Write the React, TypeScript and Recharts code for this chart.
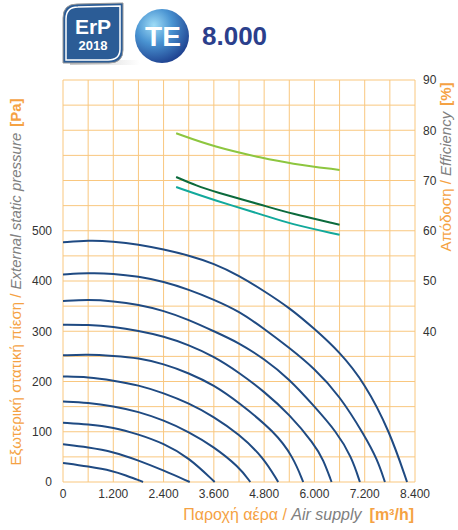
import React from "react";
import { ComposedChart, Line, XAxis, YAxis, CartesianGrid } from "recharts";

// air supply [m3/h] vs external static pressure [Pa], one curve per fan speed
const flowTicks = [0, 600, 1200, 1800, 2400, 3000, 3600, 4200, 4800, 5400, 6000, 6600, 7200, 7800, 8400];
const pressureTicks = [0, 50, 100, 150, 200, 250, 300, 350, 400, 450, 500, 550, 600, 650, 700, 750, 800];
const efficiencyTicks = [40, 50, 60, 70, 80, 90];

const curve1 = [
  { q: 0, p: 477 }, { q: 600, p: 481 }, { q: 1200, p: 479 }, { q: 1800, p: 473 }, { q: 2400, p: 463 },
  { q: 3000, p: 451 }, { q: 3600, p: 435 }, { q: 4200, p: 411 }, { q: 4800, p: 380 }, { q: 5400, p: 347 },
  { q: 6000, p: 305 }, { q: 6600, p: 259 }, { q: 7200, p: 197 }, { q: 7800, p: 100 }, { q: 8210, p: 0 },
];
const curve2 = [
  { q: 0, p: 413 }, { q: 600, p: 416 }, { q: 1200, p: 415 }, { q: 1800, p: 409 }, { q: 2400, p: 399 },
  { q: 3000, p: 383 }, { q: 3600, p: 363 }, { q: 4200, p: 340 }, { q: 4800, p: 305 }, { q: 5400, p: 267 },
  { q: 6000, p: 226 }, { q: 6600, p: 172 }, { q: 7200, p: 92 }, { q: 7500, p: 45 }, { q: 7682, p: 0 },
];
const curve3 = [
  { q: 0, p: 360 }, { q: 600, p: 363 }, { q: 1200, p: 360 }, { q: 1800, p: 353 }, { q: 2400, p: 341 },
  { q: 3000, p: 323 }, { q: 3600, p: 300 }, { q: 4200, p: 277 }, { q: 4800, p: 245 }, { q: 5400, p: 205 },
  { q: 5970, p: 153 }, { q: 6528, p: 100 }, { q: 6887, p: 50 }, { q: 7085, p: 0 },
];
const curve4 = [
  { q: 0, p: 313 }, { q: 600, p: 313 }, { q: 1200, p: 309 }, { q: 1800, p: 301 }, { q: 2400, p: 290 },
  { q: 3000, p: 273 }, { q: 3600, p: 250 }, { q: 4200, p: 218 }, { q: 4800, p: 180 }, { q: 5400, p: 135 },
  { q: 6000, p: 75 }, { q: 6209, p: 45 }, { q: 6409, p: 0 },
];
const curve5 = [
  { q: 0, p: 252 }, { q: 600, p: 254 }, { q: 1200, p: 251 }, { q: 1800, p: 247 }, { q: 2400, p: 235 },
  { q: 3000, p: 217 }, { q: 3600, p: 193 }, { q: 4200, p: 158 }, { q: 5050, p: 100 }, { q: 5492, p: 50 },
  { q: 5732, p: 0 },
];
const curve6 = [
  { q: 0, p: 210 }, { q: 600, p: 209 }, { q: 1200, p: 202 }, { q: 1800, p: 193 }, { q: 2400, p: 177 },
  { q: 3000, p: 157 }, { q: 3600, p: 130 }, { q: 4200, p: 95 }, { q: 4776, p: 50 }, { q: 5135, p: 0 },
];
const curve7 = [
  { q: 0, p: 160 }, { q: 600, p: 158 }, { q: 1200, p: 151 }, { q: 1800, p: 140 }, { q: 2400, p: 123 },
  { q: 3000, p: 100 }, { q: 3600, p: 70 }, { q: 4200, p: 30 }, { q: 4470, p: 0 },
];
const curve8 = [
  { q: 0, p: 118 }, { q: 600, p: 115 }, { q: 1200, p: 109 }, { q: 1800, p: 95 }, { q: 2400, p: 77 },
  { q: 3000, p: 49 }, { q: 3620, p: 0 },
];
const curve9 = [
  { q: 0, p: 75 }, { q: 600, p: 69 }, { q: 1200, p: 60 }, { q: 1800, p: 43 }, { q: 2400, p: 23 }, { q: 3025, p: 0 },
];
const curve10 = [
  { q: 0, p: 38 }, { q: 600, p: 31 }, { q: 1200, p: 22 }, { q: 1500, p: 13 }, { q: 1800, p: 4 }, { q: 1910, p: 0 },
];
const fanCurves = [curve1, curve2, curve3, curve4, curve5, curve6, curve7, curve8, curve9, curve10];

// efficiency [%] on the right axis
const effLight = [
  { q: 2700, e: 79.4 }, { q: 3600, e: 76.7 }, { q: 4800, e: 74.4 }, { q: 5400, e: 73.4 }, { q: 6600, e: 72.1 },
];
const effDark = [
  { q: 2700, e: 70.7 }, { q: 3200, e: 68.9 }, { q: 3600, e: 67.8 }, { q: 4800, e: 65.0 }, { q: 5400, e: 63.5 },
  { q: 6600, e: 61.2 },
];
const effTeal = [
  { q: 2700, e: 68.7 }, { q: 3600, e: 66.1 }, { q: 4800, e: 63.1 }, { q: 5400, e: 61.4 }, { q: 6600, e: 59.2 },
];

const FONT = "'Liberation Sans', Arial, sans-serif";
const ORANGE = "#f5a243";
const GRAY = "#808080";
const GRID = "#f9c77f";
const NAVY = "#1f4a82";

const fmtFlow = (v: number) => {
  if (v % 1200 !== 0) return "";
  if (v < 1000) return String(v);
  return `${Math.floor(v / 1000)}.${String(v % 1000).padStart(3, "0")}`;
};
const fmtPressure = (v: number) => (v % 100 === 0 && v <= 500 ? String(v) : "");

function Header() {
  return (
    <g>
      <defs>
        <radialGradient id="teGrad" cx="35%" cy="30%" r="75%">
          <stop offset="0%" stopColor="#9fdcf6" />
          <stop offset="45%" stopColor="#4a94d2" />
          <stop offset="100%" stopColor="#1d3f8e" />
        </radialGradient>
        <linearGradient id="shadow" x1="0" y1="0" x2="1" y2="0">
          <stop offset="0%" stopColor="#bbb" stopOpacity="0.8" />
          <stop offset="100%" stopColor="#bbb" stopOpacity="0" />
        </linearGradient>
      </defs>
      <rect x={70} y={60} width={70} height={5} fill="url(#shadow)" />
      <path d="M63,18 Q63,4 77,4 L123,3 L123,50 Q123,63 109,63 L63,63 Z" fill="#2b5c96" stroke="#9a9a9a" strokeWidth={1} />
      <path d="M66,19 Q66,7 78,7 L120,6 L120,49 Q120,60 108,60 L66,60 Z" fill="none" stroke="#fff" strokeWidth={1.5} />
      <text x={93} y={34} textAnchor="middle" fill="#fff" fontFamily={FONT} fontWeight="bold" fontSize={21}>ErP</text>
      <text x={93} y={50} textAnchor="middle" fill="#fff" fontFamily={FONT} fontWeight="bold" fontSize={13}>2018</text>
      <circle cx={162} cy={36} r={27} fill="url(#teGrad)" />
      <text x={163} y={46} textAnchor="middle" fill="#fff" fontFamily={FONT} fontWeight="bold" fontSize={28}>TE</text>
      <text x={202} y={45} fill="#2b3f8c" fontFamily={FONT} fontWeight="bold" fontSize={26}>8.000</text>
    </g>
  );
}

function Titles() {
  return (
    <g fontFamily={FONT} fontSize={15}>
      <text transform="translate(21,282) rotate(-90)" textAnchor="middle">
        <tspan fill={ORANGE}>Εξωτερική στατική πίεση / </tspan>
        <tspan fill={GRAY} fontStyle="italic">External static pressure</tspan>
        <tspan fill={ORANGE} fontWeight="bold" dx={6}>[Pa]</tspan>
      </text>
      <text transform="translate(451,167) rotate(-90)" textAnchor="middle">
        <tspan fill={ORANGE}>Απόδοση / </tspan>
        <tspan fill={GRAY} fontStyle="italic">Efficiency</tspan>
        <tspan fill={ORANGE} fontWeight="bold" dx={6}>[%]</tspan>
      </text>
      <text x={414} y={520} textAnchor="end" fontSize={16}>
        <tspan fill={ORANGE}>Παροχή αέρα / </tspan>
        <tspan fill={GRAY} fontStyle="italic">Air supply</tspan>
        <tspan fill={ORANGE} fontWeight="bold" dx={8}>[m³/h]</tspan>
      </text>
    </g>
  );
}

export default function App() {
  const tickStyle = { fontSize: 12, fill: "#333", fontFamily: FONT };
  return (
    <div style={{ position: "absolute", left: 0, top: 0, width: 458, height: 530, background: "#fff" }}>
      <ComposedChart width={458} height={530} margin={{ top: 80, right: 0, bottom: 0, left: 0 }}>
        <CartesianGrid yAxisId="left" stroke={GRID} strokeWidth={1} />
        <XAxis
          dataKey="q"
          type="number"
          domain={[0, 8400]}
          ticks={flowTicks}
          tickFormatter={fmtFlow}
          interval={0}
          allowDataOverflow
          axisLine={false}
          tickLine={false}
          tickSize={4}
          tickMargin={3}
          height={48}
          tick={tickStyle}
        />
        <YAxis
          yAxisId="left"
          type="number"
          domain={[0, 800]}
          ticks={pressureTicks}
          tickFormatter={fmtPressure}
          interval={0}
          axisLine={false}
          tickLine={false}
          tickSize={6}
          tickMargin={5}
          width={63}
          tick={tickStyle}
        />
        <YAxis
          yAxisId="right"
          orientation="right"
          type="number"
          domain={[10, 90]}
          ticks={efficiencyTicks}
          interval={0}
          axisLine={false}
          tickLine={false}
          tickSize={4}
          tickMargin={4}
          width={43}
          tick={tickStyle}
        />
        {fanCurves.map((c, i) => (
          <Line
            key={i}
            yAxisId="left"
            data={c}
            dataKey="p"
            type="basis"
            stroke={NAVY}
            strokeWidth={2}
            dot={false}
            isAnimationActive={false}
          />
        ))}
        <Line yAxisId="right" data={effLight} dataKey="e" type="basis" stroke="#8dc63f" strokeWidth={2} dot={false} isAnimationActive={false} />
        <Line yAxisId="right" data={effDark} dataKey="e" type="basis" stroke="#0b6a3c" strokeWidth={2} dot={false} isAnimationActive={false} />
        <Line yAxisId="right" data={effTeal} dataKey="e" type="basis" stroke="#12a99c" strokeWidth={2} dot={false} isAnimationActive={false} />
      </ComposedChart>
      <svg width={458} height={530} style={{ position: "absolute", left: 0, top: 0, pointerEvents: "none" }}>
        <Header />
        <Titles />
      </svg>
    </div>
  );
}
